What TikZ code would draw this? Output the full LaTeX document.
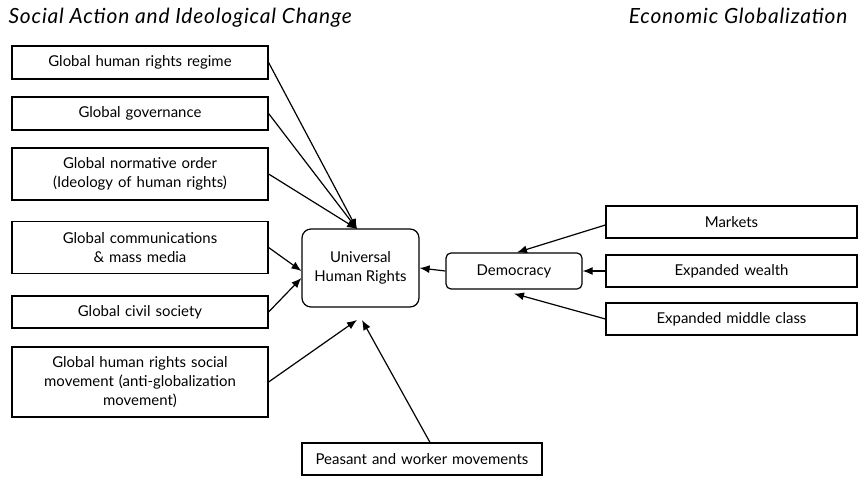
\documentclass[tikz,border=0pt]{standalone}
\usepackage{fontspec}
\setmainfont{Lato}
\usetikzlibrary{arrows.meta}

\begin{document}
\begin{tikzpicture}
[
    x=1bp, y=-1bp,
    line width=1.2bp,
    factor/.style={draw, rectangle, font=\fontsize{15}{19}\selectfont, align=center, text width=244bp, minimum width=256bp, inner sep=2bp},
    econ/.style={factor, text width=239bp, minimum width=251bp, minimum height=32bp},
    hub/.style={draw, rounded corners=9bp, font=\fontsize{15}{19}\selectfont, align=center},
    title/.style={font=\fontsize{21}{24}\selectfont\itshape\addfontfeatures{LetterSpace=4}, inner sep=0pt},
    link/.style={-{Latex[length=10bp, width=8bp]}},
]
\useasboundingbox (0,0) rectangle (860,492);

\node [title, anchor=base west] (sactitle) at (8,24) {Social Action and Ideological Change};
\node [title, anchor=base east] (ectitle) at (848,24) {Economic Globalization};

% social action side
\node [factor, minimum height=33bp] (regime) at (140,62.5) {Global human rights regime};
\node [factor, minimum height=33bp] (governance) at (140,113.5) {Global governance};
\node [factor, minimum height=52bp] (normative) at (140,174) {Global normative order\\(Ideology of human rights)};
\node [factor, minimum height=52bp] (media) at (140,247.5) {Global communications\\\& mass media};
\node [factor, minimum height=32bp] (civil) at (140,312) {Global civil society};
\node [factor, minimum height=70bp] (movement) at (140,382) {Global human rights social\\movement (anti-globalization\\movement)};
\node [factor, text width=228bp, minimum width=240bp, minimum height=32bp] (peasant) at (422,459) {Peasant and worker movements};

% centre
\node [hub, minimum width=117bp, minimum height=78bp] (uhr) at (360.5,268) {Universal\\Human Rights};
\node [hub, rounded corners=5bp, minimum width=136bp, minimum height=36bp] (democracy) at (514,271) {Democracy};

% economic side
\node [econ] (markets) at (731.5,222) {Markets};
\node [econ] (wealth) at (731.5,271) {Expanded wealth};
\node [econ] (middle) at (731.5,319) {Expanded middle class};

\coordinate (uhrtop) at (357,229);
\coordinate (uhrlow) at (357,320);
\coordinate (uhrlow2) at (362,320);

\draw [link] (regime.east) -- (uhrtop);
\draw [link] (governance.east) -- (uhrtop);
\draw [link] (normative.east) -- (uhrtop);
\draw [link] (media.east) -- ([yshift=-3bp]uhr.west);
\draw [link] (civil.east) -- ([yshift=-10bp]uhr.west);
\draw [link] (movement.east) -- (uhrlow);
\draw [link] ([xshift=8bp]peasant.north) -- (uhrlow2);
\draw [link] (democracy.west) -- (uhr.east);
\draw [link] ([yshift=-3bp]markets.west) -- ([xshift=3bp]democracy.north);
\draw [link] (wealth.west) -- (democracy.east);
\draw [link] (middle.west) -- ([yshift=-4bp]democracy.south);
\end{tikzpicture}
\end{document}
